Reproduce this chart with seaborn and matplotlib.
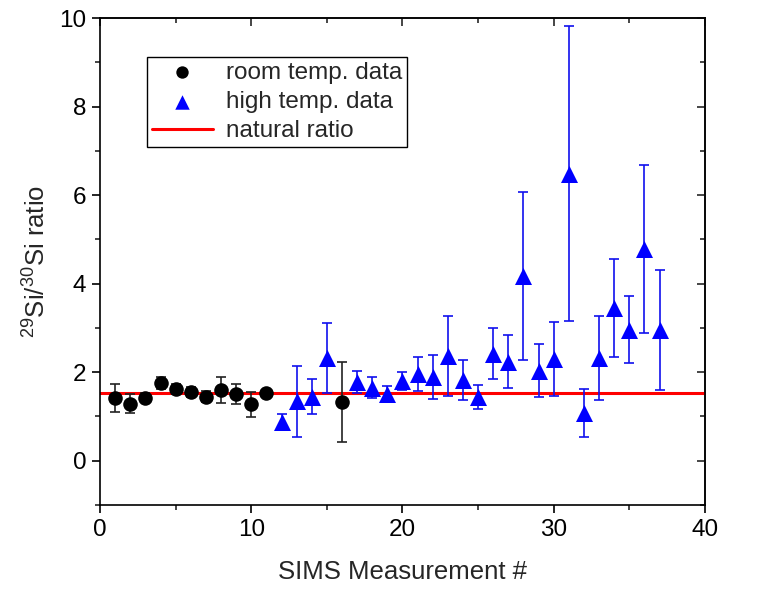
import matplotlib
matplotlib.use("Agg")
import matplotlib.pyplot as plt
from matplotlib.ticker import MultipleLocator
import seaborn as sns
import pandas as pd

# room temperature data
room_x = [1, 2, 3, 4, 5, 6, 7, 8, 9, 10, 11, 16]
room_y = [1.42, 1.29, 1.42, 1.75, 1.62, 1.55, 1.45, 1.60, 1.51, 1.27, 1.52, 1.32]
room_err = [0.31, 0.21, 0.10, 0.13, 0.12, 0.12, 0.13, 0.29, 0.23, 0.29, 0.08, 0.90]

# high temperature data
high_x = [12, 13, 14, 15, 17, 18, 19, 20, 21, 22, 23, 24, 25,
          26, 27, 28, 29, 30, 31, 32, 33, 34, 35, 36, 37]
high_y = [0.88, 1.34, 1.45, 2.32, 1.77, 1.65, 1.51, 1.80, 1.96, 1.89, 2.36, 1.83, 1.44,
          2.42, 2.24, 4.18, 2.03, 2.30, 6.48, 1.08, 2.32, 3.45, 2.96, 4.78, 2.95]
high_err = [0.18, 0.80, 0.40, 0.80, 0.25, 0.24, 0.17, 0.20, 0.38, 0.50, 0.90, 0.45, 0.28,
            0.58, 0.60, 1.90, 0.60, 0.83, 3.33, 0.55, 0.95, 1.10, 0.75, 1.90, 1.35]

natural_ratio = 1.52

x_ticks = [0, 10, 20, 30, 40]
y_ticks = [0, 2, 4, 6, 8, 10]

sns.set_style("white")
plt.rcParams['font.family'] = ['Liberation Sans', 'DejaVu Sans']
plt.rcParams['mathtext.default'] = 'regular'

fig = plt.figure(figsize=(7.58, 6.11), dpi=100)
ax = fig.add_axes([0.132, 0.1735, 0.798, 0.797])

room_df = pd.DataFrame({"x": room_x, "y": room_y})
high_df = pd.DataFrame({"x": high_x, "y": high_y})

ax.axhline(natural_ratio, color='red', lw=2.2, zorder=1, label='natural ratio')

ax.errorbar(room_x, room_y, yerr=room_err, fmt='none', ecolor='#222222',
            elinewidth=1.2, capsize=3.5, capthick=1.2, zorder=2)
ax.errorbar(high_x, high_y, yerr=high_err, fmt='none', ecolor='#1010ee',
            elinewidth=1.2, capsize=3.5, capthick=1.2, zorder=2)

sns.scatterplot(data=room_df, x="x", y="y", marker='o', color='black', s=110,
                edgecolor='black', linewidth=0, ax=ax, zorder=3, label='room temp. data')
sns.scatterplot(data=high_df, x="x", y="y", marker='^', color='#0000ff', s=150,
                edgecolor='#0000ff', linewidth=0, ax=ax, zorder=3, label='high temp. data')

ax.set_xlim(0, 40)
ax.set_ylim(-1, 10)
ax.set_xticks(x_ticks)
ax.set_yticks(y_ticks)
ax.xaxis.set_minor_locator(MultipleLocator(5))
ax.yaxis.set_minor_locator(MultipleLocator(1))

ax.tick_params(axis='both', which='major', direction='out', length=6, width=1.2,
               labelsize=17.5, colors='black', bottom=True, left=True, top=False, right=False,
               pad=4)
ax.tick_params(axis='both', which='minor', direction='out', length=3.5, width=1.2,
               bottom=True, left=True, top=False, right=False)

secx = ax.secondary_xaxis('top')
secx.set_xticks(x_ticks)
secx.xaxis.set_minor_locator(MultipleLocator(5))
secx.tick_params(axis='x', which='major', direction='in', length=6, width=1.2, labeltop=False)
secx.tick_params(axis='x', which='minor', direction='in', length=3.5, width=1.2)
secx.spines['top'].set_linewidth(1.2)

secy = ax.secondary_yaxis('right')
secy.set_yticks(y_ticks)
secy.yaxis.set_minor_locator(MultipleLocator(1))
secy.tick_params(axis='y', which='major', direction='in', length=6, width=1.2, labelright=False)
secy.tick_params(axis='y', which='minor', direction='in', length=3.5, width=1.2)
secy.spines['right'].set_linewidth(1.2)

for sp in ax.spines.values():
    sp.set_linewidth(1.2)
    sp.set_color('black')

ax.set_xlabel('SIMS Measurement #', fontsize=18.5, labelpad=14)
ax.set_ylabel('$^{29}$Si/$^{30}$Si ratio', fontsize=18.5, labelpad=6)

handles, labels = ax.get_legend_handles_labels()
order = [labels.index('room temp. data'), labels.index('high temp. data'), labels.index('natural ratio')]
leg = ax.legend([handles[i] for i in order], [labels[i] for i in order],
                loc='upper left', bbox_to_anchor=(0.078, 0.92), fontsize=17.5,
                frameon=True, fancybox=False, edgecolor='black', framealpha=1,
                handlelength=2.5, handletextpad=0.55, borderpad=0.2, labelspacing=0.3,
                borderaxespad=0, markerscale=0.85)
leg.get_frame().set_linewidth(1.0)

fig.savefig('out.png', dpi=100)
